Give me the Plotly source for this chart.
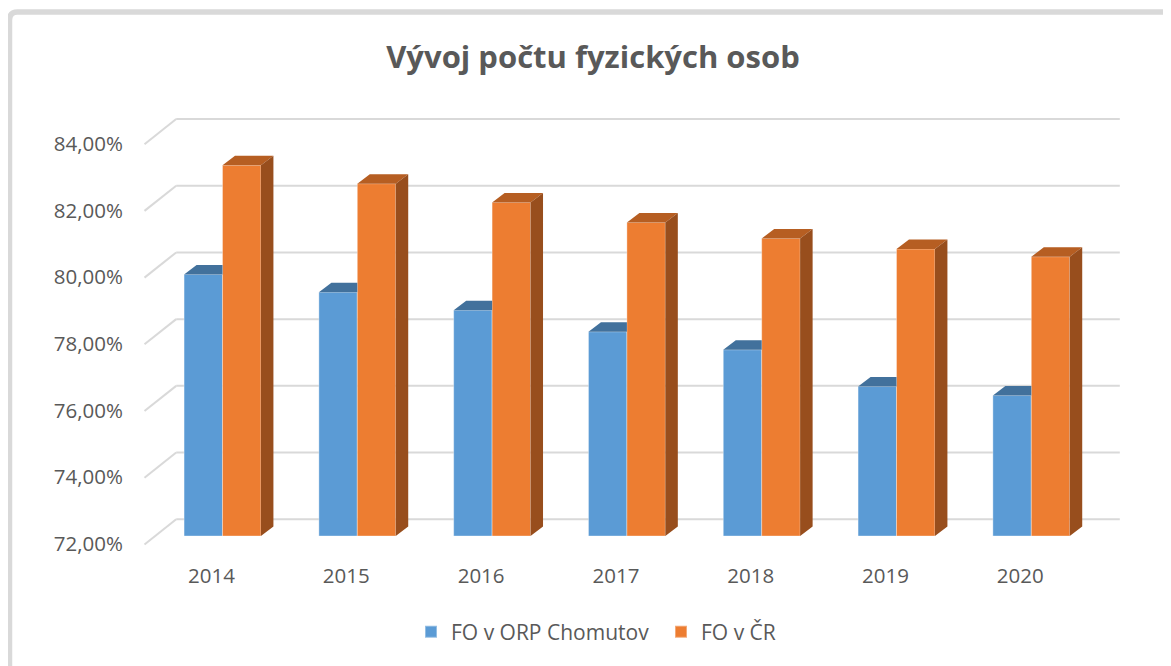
import plotly.graph_objects as go

# ---------------- data ----------------
years = ["2014", "2015", "2016", "2017", "2018", "2019", "2020"]
fo_chomutov = [0.7984, 0.7931, 0.7877, 0.7812, 0.7758, 0.7648, 0.7621]
fo_cr = [0.8311, 0.8256, 0.8200, 0.8140, 0.8092, 0.8060, 0.8037]
series_names = ["FO v ORP Chomutov", "FO v ČR"]
y_tick_values = [0.72, 0.74, 0.76, 0.78, 0.80, 0.82, 0.84]
title_text = "Vývoj počtu fyzických osob"

# ---------------- layout geometry (screen pixels) ----------------
PAGE_OFF = 8                              # default body margin of the html page
W, H = 1171 - PAGE_OFF, 666 - PAGE_OFF    # figure size
L, R, T, B = 140, 1125, 110, 552          # plot area (screen coords)
CAT_PX = 134.8                            # pixels per category
CENTER0_PX = 222.5                        # screen x of first category centre
VAL_PX = 3336.0                           # pixels per 1.0 (100 %)
BASE_PX = 536.0                           # screen y of 72 % in the bar plane
BASE = 0.72

x_range = [(L - CENTER0_PX) / CAT_PX, (R - CENTER0_PX) / CAT_PX]
y_range = [BASE - (B - BASE_PX) / VAL_PX, BASE + (BASE_PX - T) / VAL_PX]

BAR_W = 0.285                                # width of each bar (category units)
DX = 12.5 / CAT_PX                           # bar depth, horizontal
DV = 9.5 / VAL_PX                            # bar depth, vertical
BACK_DX, BACK_DV = 21.1 / CAT_PX, 16.7 / VAL_PX     # back wall offset
FRONT_DX, FRONT_DV = -10.6 / CAT_PX, -8.5 / VAL_PX  # front edge offset

TXT = "#595959"
GRID = "#d9d9d9"
BLUE, BLUE_TOP = "#5B9BD5", "#42719C"
ORANGE, ORANGE_TOP, ORANGE_SIDE = "#ED7D31", "#B65E22", "#984E1D"
FONT = "Open Sans"

xs = list(range(len(years)))

fig = go.Figure()

# front faces (real bars)
fig.add_trace(go.Bar(
    x=xs, y=[v - BASE for v in fo_chomutov], base=BASE, width=BAR_W, offset=-BAR_W,
    name=series_names[0], marker=dict(color=BLUE, line=dict(color="rgba(255,255,255,0.35)", width=1)),
    hoverinfo="skip"))
fig.add_trace(go.Bar(
    x=xs, y=[v - BASE for v in fo_cr], base=BASE, width=BAR_W, offset=0,
    name=series_names[1], marker=dict(color=ORANGE, line=dict(color="rgba(255,255,255,0.35)", width=1)),
    hoverinfo="skip"))


def faces(polys):
    px, py = [], []
    for poly in polys:
        for (a, b) in poly + [poly[0]]:
            px.append(a)
            py.append(b)
        px.append(None)
        py.append(None)
    return px, py


# blue top (right part hidden behind the taller orange bar)
blue_tops = [[(i - BAR_W, v), (i, v), (i, v + DV), (i - BAR_W + DX, v + DV)]
             for i, v in zip(xs, fo_chomutov)]
orange_tops = [[(i, v), (i + BAR_W, v), (i + BAR_W + DX, v + DV), (i + DX, v + DV)]
               for i, v in zip(xs, fo_cr)]
orange_sides = [[(i + BAR_W, BASE), (i + BAR_W, v), (i + BAR_W + DX, v + DV),
                 (i + BAR_W + DX, BASE + DV)] for i, v in zip(xs, fo_cr)]

for polys, col in [(blue_tops, BLUE_TOP), (orange_tops, ORANGE_TOP), (orange_sides, ORANGE_SIDE)]:
    px, py = faces(polys)
    fig.add_trace(go.Scatter(x=px, y=py, mode="lines", fill="toself", fillcolor=col,
                             line=dict(width=0), showlegend=False, hoverinfo="skip"))

# gridlines: back wall + left floor/side diagonals
shapes = []
n = len(years)
for v in y_tick_values:
    shapes.append(dict(type="line", xref="x", yref="y",
                       x0=-0.5 + BACK_DX, x1=n - 0.5 + BACK_DX,
                       y0=v + BACK_DV, y1=v + BACK_DV,
                       line=dict(color=GRID, width=2), layer="below"))
    shapes.append(dict(type="line", xref="x", yref="y",
                       x0=-0.5 + FRONT_DX, x1=-0.5 + BACK_DX,
                       y0=v + FRONT_DV, y1=v + BACK_DV,
                       line=dict(color=GRID, width=2), layer="below"))


# outer chart frame (rounded corner, cropped on right and bottom)
def pxx(p):
    return (p - L) / (R - L)


def pyy(p):
    return (B - p) / (B - T)


frame = (f"M {pxx(9.5)},{pyy(700)} L {pxx(9.5)},{pyy(20)} "
         f"Q {pxx(9.5)},{pyy(12)} {pxx(17.5)},{pyy(12)} L {pxx(1250)},{pyy(12)}")
shapes.append(dict(type="path", xref="paper", yref="paper", path=frame,
                   line=dict(color=GRID, width=5.5), layer="above"))

fig.update_layout(
    width=W, height=H,
    margin=dict(l=L - PAGE_OFF, r=(W + PAGE_OFF) - R, t=T - PAGE_OFF, b=(H + PAGE_OFF) - B),
    paper_bgcolor="white", plot_bgcolor="white",
    separators=", ",
    barmode="overlay",
    font=dict(family=FONT, color=TXT, size=20),
    title=dict(text=f"<b>{title_text}</b>", x=(593 - PAGE_OFF) / W, xanchor="center",
               y=1 - (57 - PAGE_OFF) / H, yanchor="middle",
               font=dict(family=FONT, size=31, color=TXT)),
    xaxis=dict(range=x_range, tickvals=xs, ticktext=years, showgrid=False,
               zeroline=False, showline=False, ticks="", fixedrange=True,
               ticklabelshift=-11, ticklabelstandoff=9,
               tickfont=dict(size=20.5, color=TXT)),
    yaxis=dict(range=y_range, tickvals=y_tick_values, tickformat=".2%",
               showgrid=False, zeroline=False, showline=False, ticks="",
               ticklabelshift=8, ticklabelstandoff=16, fixedrange=True,
               tickfont=dict(size=20.5, color=TXT)),
    legend=dict(orientation="h", x=pxx(411), xanchor="left",
                y=pyy(632), yanchor="middle", font=dict(size=21, color=TXT),
                itemsizing="constant", traceorder="normal",
                entrywidth=205, entrywidthmode="pixels"),
    shapes=shapes,
    showlegend=True,
)

fig.write_html("out.html")
